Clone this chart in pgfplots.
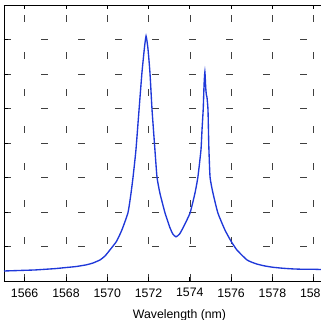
\documentclass[border=0pt]{standalone}
\usepackage{pgfplots}
\pgfplotsset{compat=1.18}
\usepackage{fontspec}
\setmainfont{Liberation Sans}
\definecolor{curve}{rgb}{0.12,0.22,0.85}
\begin{document}
\begin{tikzpicture}
\begin{axis}[
  scale only axis,
  width=351pt, height=276pt,
  xmin=1565, xmax=1582, ymin=0, ymax=8,
  xtick={1566,1568,...,1580},
  ytick={0,1,...,8},
  yticklabels={},
  tick align=inside,
  major tick length=4pt,
  tick style={black, line width=0.7pt},
  axis line style={black, line width=0.8pt},
  grid=major,
  grid style={black!75, line width=0.6pt, dash pattern=on 7pt off 30pt},
  /pgf/number format/assume math mode=true,
  /pgf/number format/1000 sep={},
  ticklabel style={font=\fontsize{12.3}{14}\selectfont},
  xticklabel shift=4pt,
  xlabel={Wavelength (nm)},
  xlabel style={font=\fontsize{12.3}{14}\selectfont, yshift=-5pt},
]
\addplot[curve, line width=1.35pt, no marks, smooth, tension=0.3] coordinates {
(1565.0,0.29)(1565.5,0.30)(1566.0,0.31)(1566.5,0.32)(1567.0,0.34)(1567.5,0.36)
(1568.0,0.39)(1568.5,0.42)(1569.0,0.47)(1569.3,0.52)(1569.65,0.61)(1569.9,0.73)
(1570.13,0.90)(1570.45,1.15)(1570.71,1.48)(1571.0,1.97)(1571.13,2.45)(1571.25,3.01)
(1571.39,3.80)(1571.54,4.96)(1571.68,6.03)(1571.80,6.75)(1571.88,7.1)(1571.97,6.75)
(1572.07,6.03)(1572.17,4.96)(1572.31,3.80)(1572.41,3.01)(1572.55,2.55)(1572.80,1.97)
(1573.04,1.54)(1573.18,1.36)(1573.33,1.28)(1573.5,1.36)(1573.67,1.54)(1574.01,1.97)
(1574.25,2.55)(1574.39,3.01)(1574.54,3.80)(1574.59,4.38)(1574.65,5.0)(1574.69,5.7)
(1574.73,6.06)(1574.77,5.6)(1574.8,5.4)(1574.83,5.33)(1574.88,4.96)(1574.92,3.9)
(1574.98,3.01)(1575.12,2.55)(1575.36,1.97)(1575.70,1.48)(1576.0,1.15)(1576.28,0.90)
(1576.77,0.61)(1577.2,0.50)(1577.6,0.44)(1578.0,0.40)(1578.5,0.37)(1579.0,0.35)
(1579.5,0.34)(1580.0,0.34)(1580.5,0.33)(1581.0,0.33)(1581.5,0.33)(1582.0,0.33)
};
\coordinate (O) at (rel axis cs:0,0);
\end{axis}
\pgfresetboundingbox
\path[use as bounding box] ([xshift=-4pt,yshift=-39pt]O) rectangle ([xshift=316pt,yshift=281pt]O);
\end{tikzpicture}
\end{document}
